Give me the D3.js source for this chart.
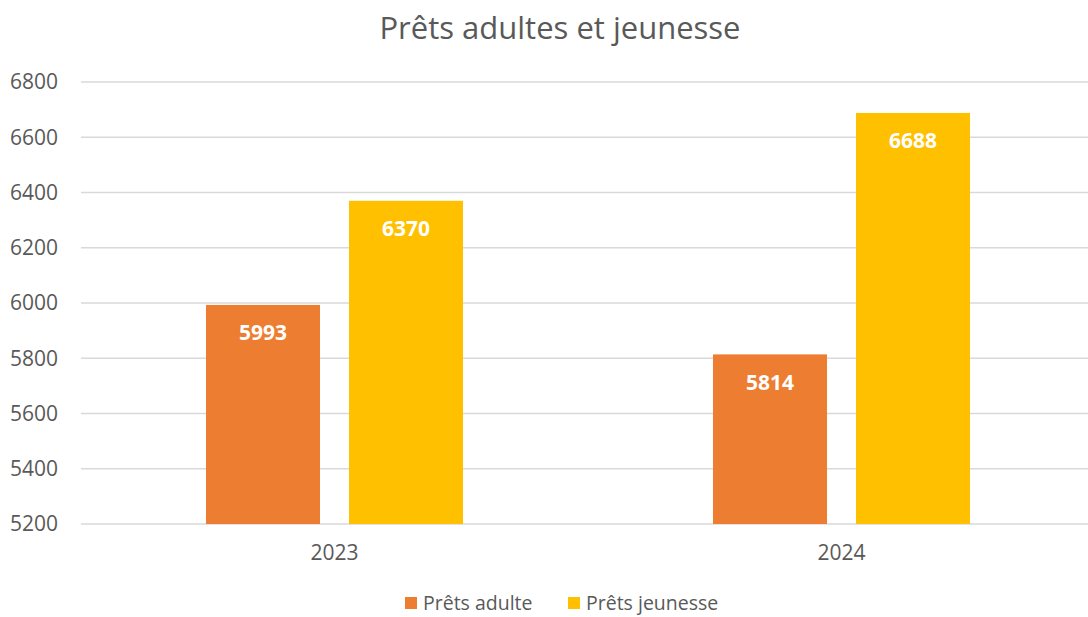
<!DOCTYPE html>
<html>
<head>
<meta charset="utf-8">
<script src="https://cdn.jsdelivr.net/npm/d3@7"></script>
<style>
  body { margin: 0; background: #fff; }
  svg { display: block; font-family: "Open Sans", "Noto Sans", sans-serif; }
</style>
</head>
<body>
<svg id="chart" width="1088" height="617"></svg>
<script>
const years = ["2023", "2024"];
const series = ["Prêts adulte", "Prêts jeunesse"];
const adulte = [5993, 5814];
const jeunesse = [6370, 6688];
const yTicks = [5200, 5400, 5600, 5800, 6000, 6200, 6400, 6600, 6800];
const colors = ["#ED7D31", "#FFC000"];

const svg = d3.select("#chart");
const margin = { top: 82, right: -7, bottom: 93, left: 81 },
  width = 1088 - margin.left - margin.right,
  height = 617 - margin.top - margin.bottom;

const data = years.map((y, i) => ({ year: y, values: [adulte[i], jeunesse[i]] }));

const x0 = d3.scaleBand().domain(years).range([0, width]);
const x1 = d3
  .scaleBand()
  .domain(series)
  .range([0, x0.bandwidth()])
  .paddingInner(0.203)
  .paddingOuter(0.874);
const y = d3.scaleLinear().domain([5200, 6800]).range([height, 0]);
const color = d3.scaleOrdinal().domain(series).range(colors);

svg
  .append("text")
  .attr("x", 560)
  .attr("y", 39)
  .attr("text-anchor", "middle")
  .style("font-size", "31px")
  .style("fill", "#595959")
  .text("Prêts adultes et jeunesse");

const g = svg.append("g").attr("transform", `translate(${margin.left},${margin.top})`);

// grid
g.selectAll(".grid")
  .data(yTicks)
  .enter()
  .append("line")
  .attr("x1", 0)
  .attr("x2", width)
  .attr("y1", (d) => y(d))
  .attr("y2", (d) => y(d))
  .style("stroke", "#d9d9d9")
  .style("stroke-width", "1.5px");

// y labels
g.selectAll(".ylab")
  .data(yTicks)
  .enter()
  .append("text")
  .attr("x", -23)
  .attr("y", (d) => y(d))
  .attr("dy", "0.35em")
  .attr("text-anchor", "end")
  .style("font-size", "21px")
  .style("fill", "#595959")
  .text((d) => d);

const groups = g
  .selectAll(".year")
  .data(data)
  .enter()
  .append("g")
  .attr("transform", (d) => `translate(${x0(d.year)},0)`);

const bars = groups
  .selectAll(".bar")
  .data((d) => d.values.map((v, i) => ({ key: series[i], value: v })))
  .enter();

bars
  .append("rect")
  .attr("x", (d) => x1(d.key))
  .attr("y", (d) => y(d.value))
  .attr("width", x1.bandwidth())
  .attr("height", (d) => height - y(d.value))
  .style("fill", (d) => color(d.key));

bars
  .append("text")
  .attr("x", (d) => x1(d.key) + x1.bandwidth() / 2)
  .attr("y", (d) => y(d.value) + 28)
  .attr("dy", "0.35em")
  .attr("text-anchor", "middle")
  .style("font-size", "21px")
  .style("font-weight", "bold")
  .style("fill", "#fff")
  .text((d) => d.value);

// x labels
g.selectAll(".xlab")
  .data(years)
  .enter()
  .append("text")
  .attr("x", (d) => x0(d) + x0.bandwidth() / 2)
  .attr("y", height + 29)
  .attr("dy", "0.35em")
  .attr("text-anchor", "middle")
  .style("font-size", "21px")
  .style("fill", "#595959")
  .text((d) => d);

// legend
const legendX = [405, 568];
const legend = svg
  .selectAll(".legend")
  .data(series)
  .enter()
  .append("g")
  .attr("transform", (d, i) => `translate(${legendX[i]},603)`);
legend
  .append("rect")
  .attr("x", 0)
  .attr("y", -6)
  .attr("width", 12)
  .attr("height", 12)
  .style("fill", (d) => color(d));
legend
  .append("text")
  .attr("x", 18)
  .attr("y", 0)
  .attr("dy", "0.35em")
  .style("font-size", "19.5px")
  .style("fill", "#595959")
  .text((d) => d);
</script>
</body>
</html>
